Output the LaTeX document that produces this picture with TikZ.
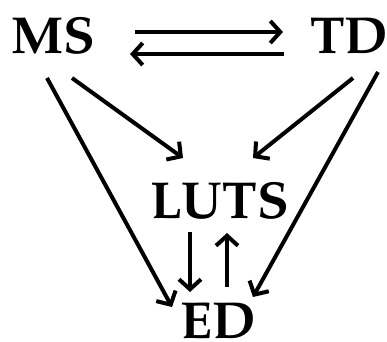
\documentclass[tikz,border=0pt]{standalone}
\usepackage[T1]{fontenc}
\usepackage{mathpazo}
\usetikzlibrary{arrows.meta}
\tikzset{
  lbl/.style={inner sep=0pt, text height=36pt, text depth=0pt, font=\fontsize{52}{62}\selectfont\bfseries},
  arr/.style={line width=4pt, -{Straight Barb[length=10pt,width=22pt]}}
}
\begin{document}
\begin{tikzpicture}[x=1pt,y=-1pt]
\useasboundingbox (0,0) rectangle (387,341);
\node[lbl] (MS) at (53,35.5) {MS};
\node[lbl] (TD) at (349,35.5) {TD};
\node[lbl] (LUTS) at (219.5,200) {LUTS};
\node[lbl] (ED) at (218.5,320) {ED};
\draw[arr] ([shift={(82,-3.5)}]MS.center) -- ([shift={(-66,-3.5)}]TD.center);
\draw[arr] ([shift={(-65,18.5)}]TD.center) -- ([shift={(77,18.5)}]MS.center);
\draw[arr] ([shift={(19,42.5)}]MS.center) -- ([shift={(-36.5,-42)}]LUTS.center);
\draw[arr] ([shift={(-6,42.5)}]MS.center) -- ([shift={(-46.5,-13)}]ED.center);
\draw[arr] ([shift={(4,42.5)}]TD.center) -- ([shift={(33.5,-42)}]LUTS.center);
\draw[arr] ([shift={(29,36.5)}]TD.center) -- ([shift={(34.5,-23)}]ED.center);
\draw[arr] ([shift={(-29.5,32)}]LUTS.center) -- ([shift={(-28.5,-28)}]ED.center);
\draw[arr] ([shift={(8.5,-33)}]ED.center) -- ([shift={(7.5,33)}]LUTS.center);
\end{tikzpicture}
\end{document}
